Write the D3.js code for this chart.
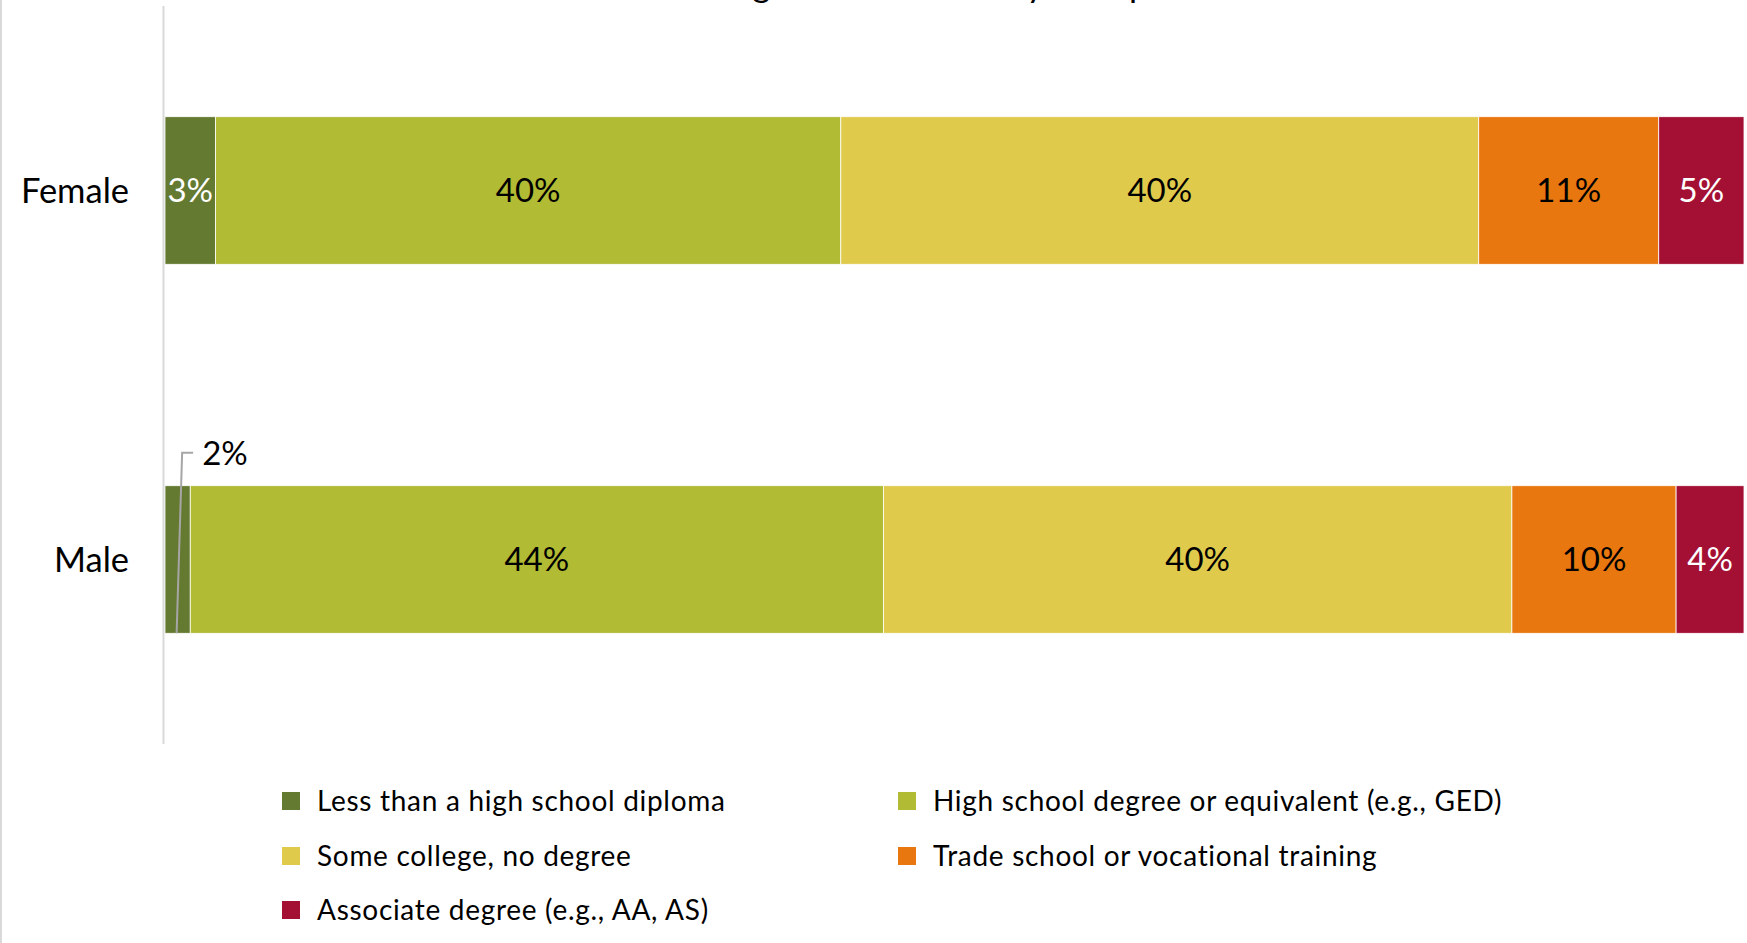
<!DOCTYPE html>
<html lang="en">
<head>
<meta charset="UTF-8">
<title>Degree attainment by group</title>
<script src="https://cdn.jsdelivr.net/npm/d3@7"></script>
<style>
body {
  margin: 0;
  background: #fff;
}
.chart text {
  font-family: Lato, "Open Sans", sans-serif;
}
</style>
</head>
<body>
<svg class="chart"></svg>
<script>
// data
var groups = ["Female", "Male"];
var categories = [
  "Less than a high school diploma",
  "High school degree or equivalent (e.g., GED)",
  "Some college, no degree",
  "Trade school or vocational training",
  "Associate degree (e.g., AA, AS)"
];
var femaleValues = [3.2, 39.6, 40.4, 11.4, 5.4];
var maleValues = [1.6, 43.9, 39.8, 10.4, 4.3];
var colors = ["#657a31", "#b1bb33", "#dfca4c", "#e8770f", "#a41034"];
var labelColors = ["#fff", "#000", "#000", "#000", "#fff"];
var titleText = "Degree Attainment by Group";

var totalWidth = 1747,
    totalHeight = 943;

var valuesByGroup = { Female: femaleValues, Male: maleValues };

var svg = d3.select(".chart")
  .attr("width", totalWidth)
  .attr("height", totalHeight);

svg.append("rect")
  .attr("width", totalWidth)
  .attr("height", totalHeight)
  .attr("fill", "#fff");

// faint frame line on the left edge
svg.append("line")
  .attr("x1", 1).attr("x2", 1)
  .attr("y1", 0).attr("y2", totalHeight)
  .attr("stroke", "#d9d9d9")
  .attr("stroke-width", 2);

// title, mostly above the visible area (as in the reference crop)
svg.append("text")
  .attr("x", 928)
  .attr("y", -3)
  .attr("text-anchor", "middle")
  .style("font-size", "35px")
  .attr("fill", "#000")
  .text(titleText);

var x = d3.scaleLinear()
  .domain([0, 100])
  .range([165, 1744]);

var y = d3.scaleBand()
  .domain(groups)
  .range([6, 744])
  .paddingInner(0.6)
  .paddingOuter(0.3);

// stack the segments per group
var rows = [];
groups.forEach(function(g) {
  var acc = 0;
  valuesByGroup[g].forEach(function(v, i) {
    rows.push({ group: g, index: i, start: acc, end: acc + v, value: v });
    acc += v;
  });
});

var chart = svg.append("g");

chart.selectAll("rect.seg")
  .data(rows)
  .enter().append("rect")
  .attr("class", "seg")
  .attr("x", function(d) { return x(d.start); })
  .attr("y", function(d) { return y(d.group); })
  .attr("width", function(d) { return x(d.end) - x(d.start); })
  .attr("height", y.bandwidth())
  .attr("fill", function(d) { return colors[d.index]; })
  .attr("stroke", "#fff")
  .attr("stroke-width", 0.8);

// vertical axis line
chart.append("line")
  .attr("x1", 163.5).attr("x2", 163.5)
  .attr("y1", 6).attr("y2", 744)
  .attr("stroke", "#d9d9d9")
  .attr("stroke-width", 2);

// category labels
chart.selectAll("text.cat")
  .data(groups)
  .enter().append("text")
  .attr("class", "cat")
  .attr("x", 129)
  .attr("y", function(d) { return y(d) + y.bandwidth() / 2; })
  .attr("dy", "0.36em")
  .attr("text-anchor", "end")
  .style("font-size", "34.5px")
  .attr("fill", "#000")
  .text(function(d) { return d; });

// labels inside the segments
var inside = rows.filter(function(d) { return d.value >= 2.5; });
var outside = rows.filter(function(d) { return d.value < 2.5; });

chart.selectAll("text.val")
  .data(inside)
  .enter().append("text")
  .attr("class", "val")
  .attr("x", function(d) { return (x(d.start) + x(d.end)) / 2; })
  .attr("y", function(d) { return y(d.group) + y.bandwidth() / 2; })
  .attr("dy", "0.36em")
  .attr("text-anchor", "middle")
  .style("font-size", "33px")
  .attr("fill", function(d) { return labelColors[d.index]; })
  .text(function(d) { return Math.round(d.value) + "%"; });

// small segments get a leader line and a label above the bar
outside.forEach(function(d) {
  var x0 = (x(d.start) + x(d.end)) / 2 - 1,
      y0 = y(d.group) + y.bandwidth(),
      x1 = x0 + 5.5,
      y1 = y(d.group) - 33,
      x2 = x1 + 11;
  chart.append("polyline")
    .attr("points", [[x0, y0], [x1, y1], [x2, y1]].join(" "))
    .attr("fill", "none")
    .attr("stroke", "#a6a6a6")
    .attr("stroke-width", 2);
  chart.append("text")
    .attr("x", x2 + 9)
    .attr("y", y1)
    .attr("dy", "0.36em")
    .style("font-size", "33px")
    .attr("fill", "#000")
    .text(Math.round(d.value) + "%");
});

// legend, two columns
var legendCols = [282, 898],
    legendRows = [801, 856, 910];

var legend = svg.selectAll("g.legend")
  .data(categories)
  .enter().append("g")
  .attr("class", "legend")
  .attr("transform", function(d, i) {
    return "translate(" + legendCols[i % 2] + "," + legendRows[Math.floor(i / 2)] + ")";
  });

legend.append("rect")
  .attr("x", 0)
  .attr("y", -9)
  .attr("width", 18)
  .attr("height", 18)
  .attr("fill", function(d, i) { return colors[i]; });

legend.append("text")
  .attr("x", 35)
  .attr("y", 0)
  .attr("dy", "0.36em")
  .style("font-size", "28px")
  .style("letter-spacing", "0.7px")
  .attr("fill", "#000")
  .text(function(d) { return d; });
</script>
</body>
</html>
